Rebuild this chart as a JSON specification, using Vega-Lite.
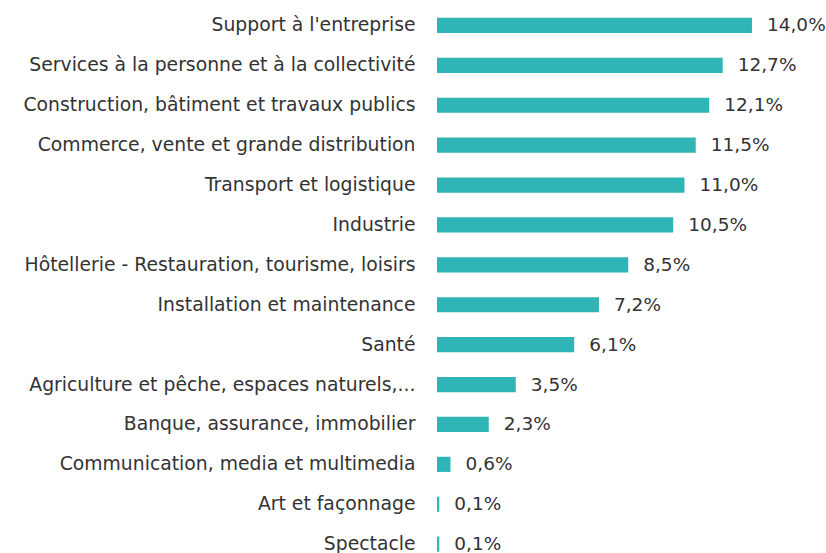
{
  "$schema": "https://vega.github.io/schema/vega-lite/v6.json",
  "autosize": "none",
  "width": 389,
  "height": 558.6,
  "padding": {"left": 437, "top": 5.5, "right": 0, "bottom": 0},
  "background": "white",
  "data": {
    "values": [
      {"secteur": "Support à l'entreprise", "part": 14.0, "label": "14,0%"},
      {"secteur": "Services à la personne et à la collectivité", "part": 12.7, "label": "12,7%"},
      {"secteur": "Construction, bâtiment et travaux publics", "part": 12.1, "label": "12,1%"},
      {"secteur": "Commerce, vente et grande distribution", "part": 11.5, "label": "11,5%"},
      {"secteur": "Transport et logistique", "part": 11.0, "label": "11,0%"},
      {"secteur": "Industrie", "part": 10.5, "label": "10,5%"},
      {"secteur": "Hôtellerie - Restauration, tourisme, loisirs", "part": 8.5, "label": "8,5%"},
      {"secteur": "Installation et maintenance", "part": 7.2, "label": "7,2%"},
      {"secteur": "Santé", "part": 6.1, "label": "6,1%"},
      {"secteur": "Agriculture et pêche, espaces naturels,...", "part": 3.5, "label": "3,5%"},
      {"secteur": "Banque, assurance, immobilier", "part": 2.3, "label": "2,3%"},
      {"secteur": "Communication, media et multimedia", "part": 0.6, "label": "0,6%"},
      {"secteur": "Art et façonnage", "part": 0.1, "label": "0,1%"},
      {"secteur": "Spectacle", "part": 0.1, "label": "0,1%"}
    ]
  },
  "encoding": {
    "y": {
      "field": "secteur",
      "type": "nominal",
      "sort": null,
      "scale": {"paddingInner": 0.62, "paddingOuter": 0.31},
      "axis": {
        "title": null,
        "domain": false,
        "ticks": false,
        "labelPadding": 22,
        "labelFont": "DejaVu Sans",
        "labelFontSize": 18.8,
        "labelColor": "#333333",
        "labelLimit": 0
      }
    },
    "x": {
      "field": "part",
      "type": "quantitative",
      "scale": {"domain": [0, 17.29], "nice": false},
      "axis": null
    }
  },
  "layer": [
    {"mark": {"type": "bar", "color": "#2fb5b5"}},
    {
      "mark": {"type": "text", "align": "left", "dx": 15, "font": "DejaVu Sans", "fontSize": 18.5, "color": "#333333", "baseline": "middle"},
      "encoding": {"text": {"field": "label"}}
    }
  ],
  "config": {"view": {"stroke": null}}
}
